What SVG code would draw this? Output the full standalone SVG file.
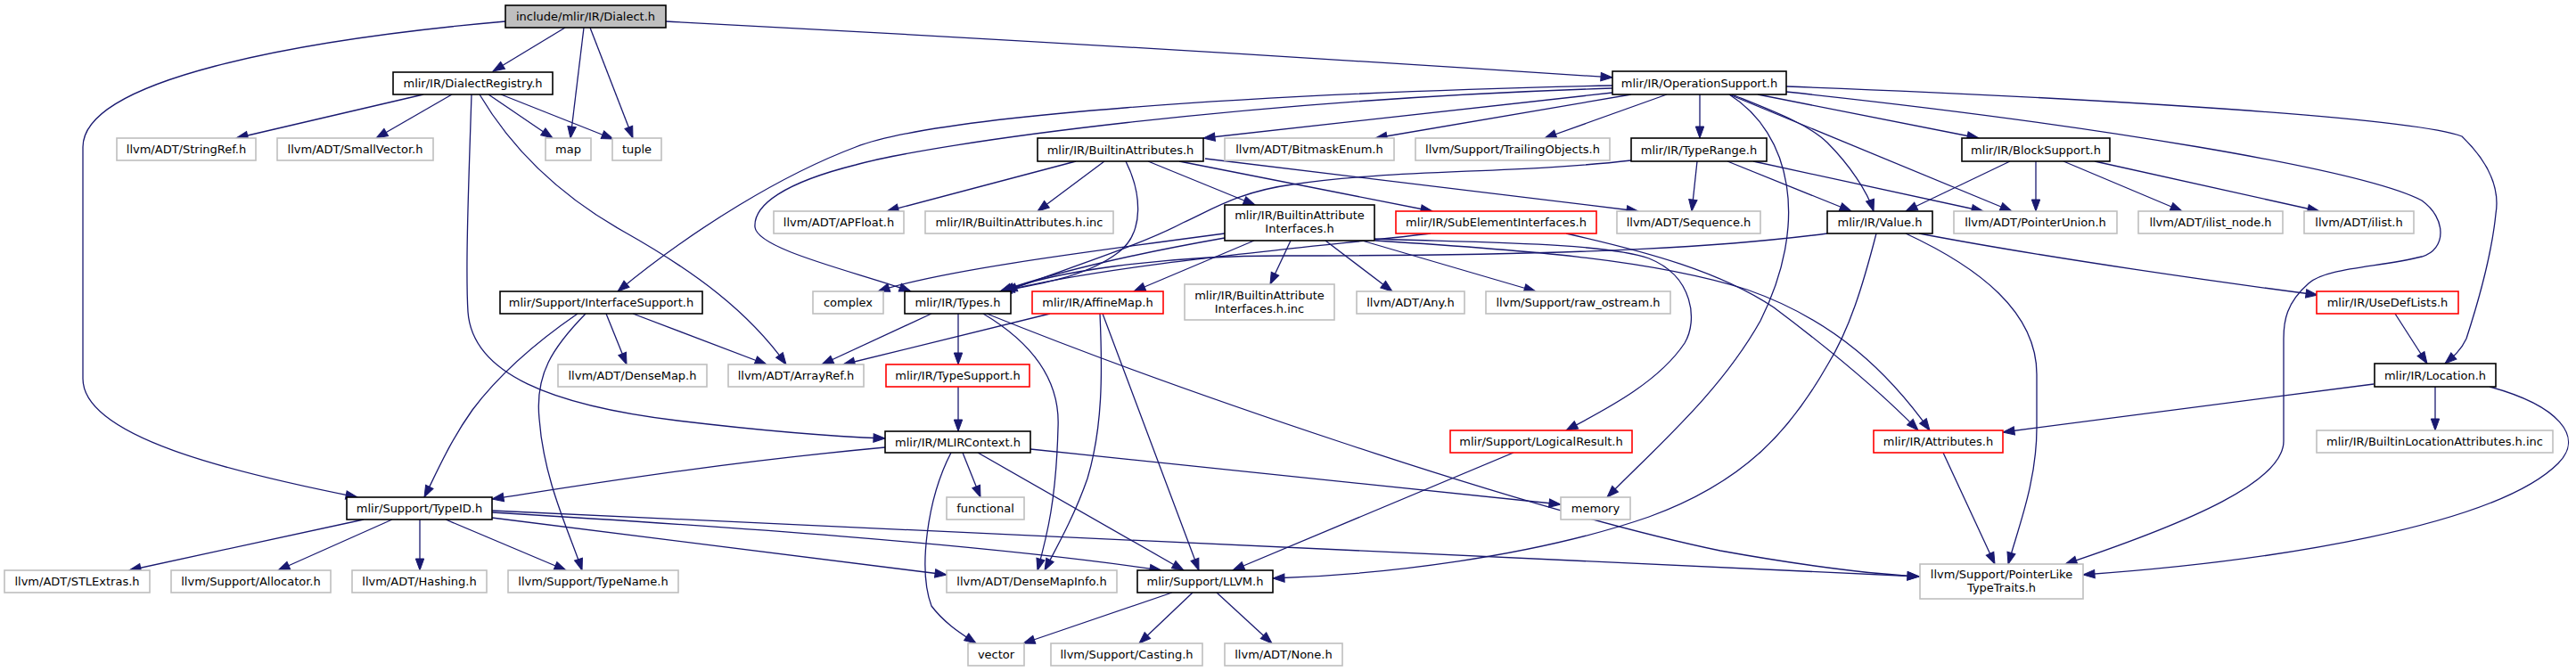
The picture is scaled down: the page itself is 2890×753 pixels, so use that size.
<svg xmlns="http://www.w3.org/2000/svg" width="2890" height="753" viewBox="0 0 2890 753">
<style>
rect{stroke-width:1.6}
.d{fill:#fff;stroke:#000}
.x{fill:#fff;stroke:#bfbfbf}
.r{fill:#fff;stroke:#ff0000}
.root{fill:#bfbfbf;stroke:#000}
text{font-family:"DejaVu Sans",sans-serif;font-size:13px;fill:#000;text-anchor:middle}
#edges path{fill:none;stroke:#191970;stroke-width:1.3;marker-end:url(#a)}
</style>
<defs>
<marker id="a" markerUnits="userSpaceOnUse" markerWidth="15" markerHeight="11" refX="13" refY="5" orient="auto" overflow="visible">
<path d="M0,0.3 L13,5 L0,9.7 Z" fill="#191970" stroke="#191970" stroke-width="1"/>
</marker>
</defs>
<rect width="2890" height="753" fill="#fff"/>
<g id="edges">
<path d="M634,31 L553,80"/>
<path d="M655,31 L640,155"/>
<path d="M662,31 L710,155"/>
<path d="M747,24 Q1280,52 1809,87"/>
<path d="M567,24 C330,45 93,90 93,165 L93,425 C93,490 260,530 401,558"/>
<path d="M475,106 L265,155"/>
<path d="M507,106 L422,155"/>
<path d="M548,106 L620,155"/>
<path d="M562,106 L688,156"/>
<path d="M538,106 C570,160 620,215 700,260 C780,305 840,350 882,409"/>
<path d="M529,106 C526,200 522,300 525,350 C530,420 620,455 760,472 C860,484 940,490 993,492"/>
<path d="M1809,96 C1400,105 1050,130 960,165 C880,195 780,255 693,327"/>
<path d="M1809,99 C1400,112 1050,160 960,185 C880,205 845,230 847,255 C850,280 960,305 1022,327"/>
<path d="M1809,104 L1350,155"/>
<path d="M1830,106 L1543,155"/>
<path d="M1870,106 L1733,155"/>
<path d="M1907,106 L1907,155"/>
<path d="M1940,106 C2010,150 2030,250 1975,360 C1930,440 1860,500 1803,558"/>
<path d="M1943,106 C1990,125 2030,140 2050,160 C2075,185 2095,215 2102,237"/>
<path d="M1940,106 L2257,237"/>
<path d="M1972,106 L2220,155"/>
<path d="M2004,97 C2300,108 2700,130 2762,153 C2790,180 2805,210 2800,240 C2795,290 2780,340 2767,380 C2760,395 2750,402 2743,408"/>
<path d="M2004,103 C2350,140 2650,190 2717,225 C2745,245 2745,280 2717,288 C2670,300 2610,300 2590,318 C2565,340 2562,360 2562,380 L2562,495 C2562,540 2460,585 2317,633"/>
<path d="M1207,181 L995,237"/>
<path d="M1239,181 L1164,237"/>
<path d="M1263,181 C1280,215 1285,260 1255,283 C1220,310 1170,318 1122,327"/>
<path d="M1288,181 L1408,230"/>
<path d="M1323,181 L1607,237"/>
<path d="M1352,178 L1838,237"/>
<path d="M1904,181 L1898,237"/>
<path d="M1938,181 L2077,237"/>
<path d="M1967,181 L2225,237"/>
<path d="M1830,180 C1700,195 1560,190 1450,207 C1390,215 1360,235 1327,250 C1280,275 1200,300 1128,327"/>
<path d="M2255,181 L2138,237"/>
<path d="M2284,181 L2284,237"/>
<path d="M2315,181 L2448,237"/>
<path d="M2350,181 L2602,237"/>
<path d="M2050,262 C1950,275 1800,287 1440,287 C1300,287 1180,305 1125,327"/>
<path d="M2105,262 C2090,320 2075,370 2050,410 C2010,480 1960,540 1850,580 C1720,625 1550,645 1428,649"/>
<path d="M2138,262 C2220,300 2285,350 2285,420 L2285,480 C2285,540 2265,590 2253,633"/>
<path d="M2153,262 C2300,290 2500,318 2600,331"/>
<path d="M1605,262 C1500,275 1250,295 1125,327"/>
<path d="M1757,262 C1850,283 1930,305 1990,345 C2050,390 2110,440 2152,483"/>
<path d="M1374,262 C1200,285 1050,305 985,327"/>
<path d="M1374,267 C1300,280 1200,300 1122,327"/>
<path d="M1407,270 L1272,327"/>
<path d="M1448,270 L1425,319"/>
<path d="M1487,270 L1562,327"/>
<path d="M1528,270 L1723,327"/>
<path d="M1542,268 C1650,272 1800,272 1850,290 C1900,310 1905,360 1890,385 C1860,430 1800,460 1757,483"/>
<path d="M1543,270 C1700,280 1850,290 1960,325 C2060,360 2120,420 2165,483"/>
<path d="M648,352 C600,385 560,420 530,460 C505,495 490,530 476,558"/>
<path d="M657,352 C620,390 600,420 605,470 C610,540 640,600 653,640"/>
<path d="M680,352 L703,409"/>
<path d="M710,352 L860,409"/>
<path d="M408,583 L145,640"/>
<path d="M440,583 L312,640"/>
<path d="M471,583 L471,640"/>
<path d="M500,583 L635,640"/>
<path d="M552,575 C800,590 1100,610 1303,640"/>
<path d="M552,581 L1062,645"/>
<path d="M552,573 C900,590 1500,620 2153,647"/>
<path d="M1045,352 L922,409"/>
<path d="M1075,352 L1075,409"/>
<path d="M1103,352 C1150,380 1190,420 1187,480 C1185,560 1175,600 1164,640"/>
<path d="M1107,352 C1300,430 1700,570 1930,618 C2030,636 2100,644 2153,647"/>
<path d="M1178,352 L946,409"/>
<path d="M1234,352 C1237,420 1237,480 1220,537 C1205,580 1185,615 1172,640"/>
<path d="M1237,352 L1345,640"/>
<path d="M1075,434 L1075,484"/>
<path d="M993,502 C800,520 650,545 552,560"/>
<path d="M1080,508 L1100,558"/>
<path d="M1067,508 C1040,560 1030,640 1045,680 C1060,700 1080,712 1095,722"/>
<path d="M1097,508 L1328,640"/>
<path d="M1156,504 L1751,566"/>
<path d="M1698,508 L1383,640"/>
<path d="M1315,665 L1148,722"/>
<path d="M1338,665 L1278,722"/>
<path d="M1365,665 L1427,722"/>
<path d="M2687,352 L2723,408"/>
<path d="M2663,431 L2247,485"/>
<path d="M2732,434 L2732,483"/>
<path d="M2793,434 C2870,455 2900,490 2870,520 C2800,590 2550,630 2337,645"/>
<path d="M2180,508 L2238,633"/>
</g>
<g id="n0"><rect class="root" x="567" y="6" width="180" height="25"/><text x="657" y="23">include/mlir/IR/Dialect.h</text></g>
<g id="n1"><rect class="d" x="441" y="81" width="179" height="25"/><text x="530.5" y="98">mlir/IR/DialectRegistry.h</text></g>
<g id="n2"><rect class="x" x="612" y="155" width="51" height="25"/><text x="637.5" y="172">map</text></g>
<g id="n3"><rect class="x" x="687" y="155" width="55" height="25"/><text x="714.5" y="172">tuple</text></g>
<g id="n4"><rect class="d" x="1809" y="80" width="195" height="26"/><text x="1906.5" y="98">mlir/IR/OperationSupport.h</text></g>
<g id="n5"><rect class="d" x="389" y="558" width="163" height="25"/><text x="470.5" y="575">mlir/Support/TypeID.h</text></g>
<g id="n6"><rect class="x" x="131" y="155" width="156" height="25"/><text x="209" y="172">llvm/ADT/StringRef.h</text></g>
<g id="n7"><rect class="x" x="311" y="155" width="175" height="25"/><text x="398.5" y="172">llvm/ADT/SmallVector.h</text></g>
<g id="n8"><rect class="x" x="817" y="409" width="152" height="25"/><text x="893" y="426">llvm/ADT/ArrayRef.h</text></g>
<g id="n9"><rect class="d" x="993" y="484" width="163" height="24"/><text x="1074.5" y="501">mlir/IR/MLIRContext.h</text></g>
<g id="n10"><rect class="d" x="561" y="327" width="227" height="25"/><text x="674.5" y="344">mlir/Support/InterfaceSupport.h</text></g>
<g id="n11"><rect class="d" x="1164" y="155" width="186" height="26"/><text x="1257" y="173">mlir/IR/BuiltinAttributes.h</text></g>
<g id="n12"><rect class="x" x="1374" y="155" width="190" height="25"/><text x="1469" y="172">llvm/ADT/BitmaskEnum.h</text></g>
<g id="n13"><rect class="x" x="1588" y="155" width="218" height="25"/><text x="1697" y="172">llvm/Support/TrailingObjects.h</text></g>
<g id="n14"><rect class="d" x="1830" y="155" width="152" height="26"/><text x="1906" y="173">mlir/IR/TypeRange.h</text></g>
<g id="n15"><rect class="d" x="2201" y="155" width="166" height="26"/><text x="2284" y="173">mlir/IR/BlockSupport.h</text></g>
<g id="n16"><rect class="d" x="2050" y="237" width="118" height="25"/><text x="2109" y="254">mlir/IR/Value.h</text></g>
<g id="n17"><rect class="x" x="2192" y="237" width="183" height="25"/><text x="2283.5" y="254">llvm/ADT/PointerUnion.h</text></g>
<g id="n18"><rect class="d" x="2664" y="408" width="136" height="26"/><text x="2732" y="426">mlir/IR/Location.h</text></g>
<g id="n19"><rect class="x" x="2154" y="633" width="183" height="39"/><text x="2245.5" y="649">llvm/Support/PointerLike</text><text x="2245.5" y="664">TypeTraits.h</text></g>
<g id="n20"><rect class="x" x="1751" y="558" width="78" height="25"/><text x="1790" y="575">memory</text></g>
<g id="n21"><rect class="d" x="1015" y="327" width="119" height="25"/><text x="1074.5" y="344">mlir/IR/Types.h</text></g>
<g id="n22"><rect class="x" x="868" y="237" width="146" height="25"/><text x="941" y="254">llvm/ADT/APFloat.h</text></g>
<g id="n23"><rect class="x" x="1038" y="237" width="211" height="25"/><text x="1143.5" y="254">mlir/IR/BuiltinAttributes.h.inc</text></g>
<g id="n24"><rect class="d" x="1374" y="230" width="168" height="40"/><text x="1458" y="246">mlir/IR/BuiltinAttribute</text><text x="1458" y="261">Interfaces.h</text></g>
<g id="n25"><rect class="r" x="1566" y="237" width="225" height="25"/><text x="1678.5" y="254">mlir/IR/SubElementInterfaces.h</text></g>
<g id="n26"><rect class="x" x="1814" y="237" width="161" height="25"/><text x="1894.5" y="254">llvm/ADT/Sequence.h</text></g>
<g id="n27"><rect class="x" x="912" y="327" width="79" height="25"/><text x="951.5" y="344">complex</text></g>
<g id="n28"><rect class="r" x="1158" y="327" width="147" height="25"/><text x="1231.5" y="344">mlir/IR/AffineMap.h</text></g>
<g id="n29"><rect class="x" x="1329" y="319" width="168" height="40"/><text x="1413" y="336">mlir/IR/BuiltinAttribute</text><text x="1413" y="351">Interfaces.h.inc</text></g>
<g id="n30"><rect class="r" x="2102" y="483" width="145" height="25"/><text x="2174.5" y="500">mlir/IR/Attributes.h</text></g>
<g id="n31"><rect class="r" x="1627" y="483" width="204" height="25"/><text x="1729" y="500">mlir/Support/LogicalResult.h</text></g>
<g id="n32"><rect class="x" x="1522" y="327" width="121" height="25"/><text x="1582.5" y="344">llvm/ADT/Any.h</text></g>
<g id="n33"><rect class="x" x="1667" y="327" width="207" height="25"/><text x="1770.5" y="344">llvm/Support/raw_ostream.h</text></g>
<g id="n34"><rect class="x" x="2399" y="237" width="162" height="25"/><text x="2480" y="254">llvm/ADT/ilist_node.h</text></g>
<g id="n35"><rect class="x" x="2585" y="237" width="123" height="25"/><text x="2646.5" y="254">llvm/ADT/ilist.h</text></g>
<g id="n36"><rect class="r" x="2599" y="327" width="159" height="25"/><text x="2678.5" y="344">mlir/IR/UseDefLists.h</text></g>
<g id="n37"><rect class="x" x="2599" y="483" width="265" height="25"/><text x="2731.5" y="500">mlir/IR/BuiltinLocationAttributes.h.inc</text></g>
<g id="n38"><rect class="r" x="994" y="409" width="161" height="25"/><text x="1074.5" y="426">mlir/IR/TypeSupport.h</text></g>
<g id="n39"><rect class="x" x="626" y="409" width="167" height="25"/><text x="709.5" y="426">llvm/ADT/DenseMap.h</text></g>
<g id="n40"><rect class="x" x="1062" y="558" width="87" height="25"/><text x="1105.5" y="575">functional</text></g>
<g id="n41"><rect class="x" x="1062" y="640" width="191" height="25"/><text x="1157.5" y="657">llvm/ADT/DenseMapInfo.h</text></g>
<g id="n42"><rect class="d" x="1276" y="640" width="152" height="25"/><text x="1352" y="657">mlir/Support/LLVM.h</text></g>
<g id="n43"><rect class="x" x="5" y="640" width="163" height="25"/><text x="86.5" y="657">llvm/ADT/STLExtras.h</text></g>
<g id="n44"><rect class="x" x="192" y="640" width="179" height="25"/><text x="281.5" y="657">llvm/Support/Allocator.h</text></g>
<g id="n45"><rect class="x" x="395" y="640" width="151" height="25"/><text x="470.5" y="657">llvm/ADT/Hashing.h</text></g>
<g id="n46"><rect class="x" x="570" y="640" width="191" height="25"/><text x="665.5" y="657">llvm/Support/TypeName.h</text></g>
<g id="n47"><rect class="x" x="1086" y="722" width="63" height="25"/><text x="1117.5" y="739">vector</text></g>
<g id="n48"><rect class="x" x="1179" y="722" width="170" height="25"/><text x="1264" y="739">llvm/Support/Casting.h</text></g>
<g id="n49"><rect class="x" x="1374" y="722" width="132" height="25"/><text x="1440" y="739">llvm/ADT/None.h</text></g>
</svg>
